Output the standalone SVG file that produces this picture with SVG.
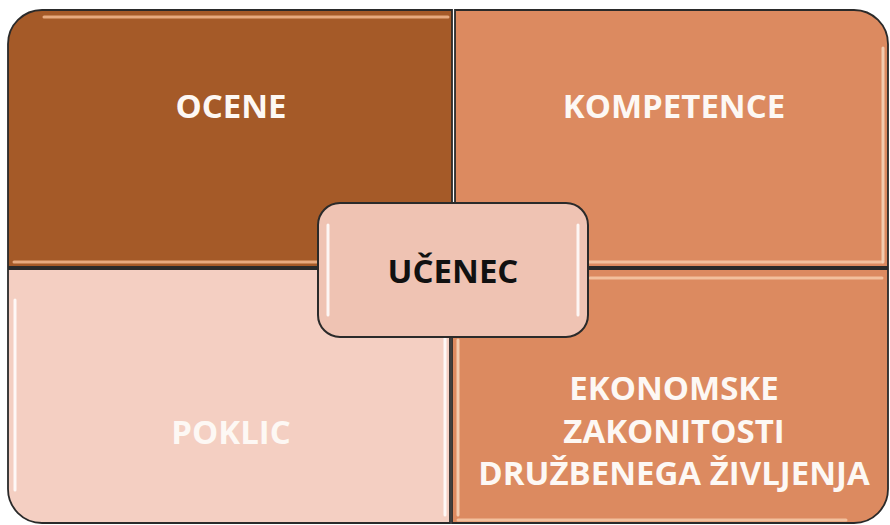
<svg xmlns="http://www.w3.org/2000/svg" width="890" height="525" viewBox="0 0 890 525">
<style>
.q{stroke:#2a2a2a;stroke-width:1.8}
.lbl{font-family:"Open Sans","Liberation Sans",sans-serif;font-weight:bold;font-size:33px;text-anchor:middle;fill:#fdf8f4}
.hl{fill:none;stroke-width:3;stroke-linecap:round;opacity:0.85}
</style>
<rect width="890" height="525" fill="#ffffff"/>
<g id="ocene">
<path class="q" d="M8,267 V44 A34,34 0 0 1 42,10 H452 V267 Z" fill="#A55A28"/>
<path class="hl" d="M44,17 H448" stroke="#F2B98E"/>
<path class="hl" d="M14,262 H448" stroke="#F2B98E"/>
<text class="lbl" x="231" y="118">OCENE</text>
</g>
<g id="kompetence">
<path class="q" d="M455,10 H854 A34,34 0 0 1 888,44 V267 H455 Z" fill="#DC8A60"/>
<path class="hl" d="M459,262 H882" stroke="#F6C9A8"/>
<path class="hl" d="M883,48 V262" stroke="#F6D5BC"/>
<text class="lbl" x="674" y="118">KOMPETENCE</text>
</g>
<g id="poklic">
<path class="q" d="M8,269 H450 V523 H42 A34,34 0 0 1 8,489 Z" fill="#F4CFC2"/>
<path class="hl" d="M15,300 V490" stroke="#ffffff"/>
<path class="hl" d="M445,335 V515" stroke="#ffffff"/>
<text class="lbl" x="231" y="444">POKLIC</text>
</g>
<g id="ekonomske">
<path class="q" d="M452,269 H888 V489 A34,34 0 0 1 854,523 H452 Z" fill="#DC8A60"/>
<path class="hl" d="M590,278 H882" stroke="#F6C9A8"/>
<path class="hl" d="M458,520 H846" stroke="#F6C9A8"/>
<path class="hl" d="M458,340 V515" stroke="#F6D5BC"/>
<text class="lbl" x="674" y="400">EKONOMSKE</text>
<text class="lbl" x="674" y="443">ZAKONITOSTI</text>
<text class="lbl" x="674" y="485">DRUŽBENEGA ŽIVLJENJA</text>
</g>
<g id="connectors"></g>
<g id="ucenec">
<rect x="318" y="203" width="270" height="134" rx="22" ry="22" fill="#EFC3B3" stroke="#2a2a2a" stroke-width="2"/>
<path class="hl" d="M328,225 V315" stroke="#ffffff"/>
<path class="hl" d="M578,225 V315" stroke="#ffffff"/>
<text x="453" y="283" style="font-family:'Open Sans','Liberation Sans',sans-serif;font-weight:bold;font-size:33px;text-anchor:middle;fill:#111111">UČENEC</text>
</g>
</svg>
